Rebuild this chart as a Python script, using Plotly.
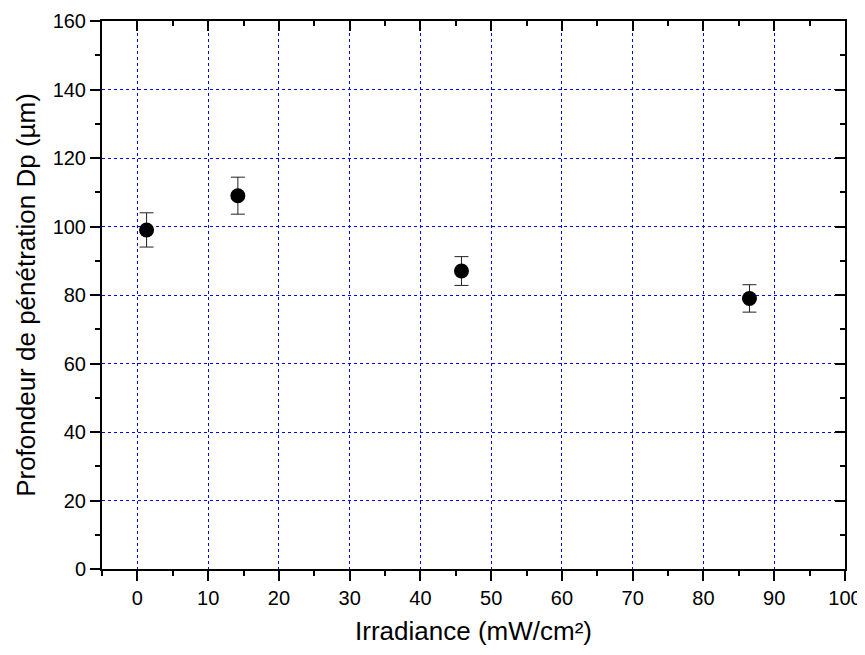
import plotly.graph_objects as go

irradiance = [1.3, 14.2, 45.8, 86.5]
depth = [99, 109, 87, 79]
depth_err = [5.0, 5.4, 4.2, 4.0]

x_ticks = list(range(0, 101, 10))
y_ticks = list(range(0, 161, 20))

font_family = "Liberation Sans, Arial, sans-serif"

fig = go.Figure()
fig.add_trace(go.Scatter(
    x=irradiance, y=depth, mode="markers",
    marker=dict(size=15, color="black", symbol="circle"),
    error_y=dict(type="data", array=depth_err, visible=True, color="#222222", thickness=1, width=7),
    showlegend=False,
))
# dummy trace for overlay (mirror) axes
fig.add_trace(go.Scatter(x=[None], y=[None], xaxis="x2", yaxis="y2", showlegend=False, hoverinfo="skip"))

common_x = dict(range=[-5, 100], tickvals=x_ticks, linewidth=2, linecolor="black", ticklen=10, tickwidth=2,
                tickcolor="black", zeroline=False, automargin=False, showline=True,
                minor=dict(dtick=5, tick0=0, ticklen=5, tickwidth=2, tickcolor="black", showgrid=False))
common_y = dict(range=[0, 160], tickvals=y_ticks, linewidth=2, linecolor="black", ticklen=10, tickwidth=2,
                tickcolor="black", zeroline=False, automargin=False, showline=True,
                minor=dict(dtick=10, tick0=0, ticklen=5, tickwidth=2, tickcolor="black", showgrid=False))

fig.update_layout(
    width=857, height=647,
    margin=dict(l=94, r=20, t=13, b=86),
    plot_bgcolor="white", paper_bgcolor="white",
    font=dict(family=font_family, size=20, color="black"),
    xaxis=dict(**common_x, ticks="outside", showgrid=True, gridcolor="#0000ff", griddash="dot", gridwidth=1,
               title=dict(text="Irradiance (mW/cm²)", font=dict(size=26), standoff=14),
               tickfont=dict(size=20)),
    yaxis=dict(**common_y, ticks="outside", showgrid=True, gridcolor="#0000ff", griddash="dot", gridwidth=1,
               title=dict(text="Profondeur de pénétration Dp (µm)", font=dict(size=26), standoff=10),
               tickfont=dict(size=20)),
    xaxis2=dict(**common_x, overlaying="x", side="top", anchor="y2", ticks="inside", showticklabels=False,
                showgrid=False),
    yaxis2=dict(**common_y, overlaying="y", side="right", anchor="x2", ticks="inside", showticklabels=False,
                showgrid=False),
)
fig.update_layout(xaxis2_minor_ticks="inside", yaxis2_minor_ticks="inside",
                  xaxis_minor_ticks="outside", yaxis_minor_ticks="outside")

fig.write_html("out.html")
